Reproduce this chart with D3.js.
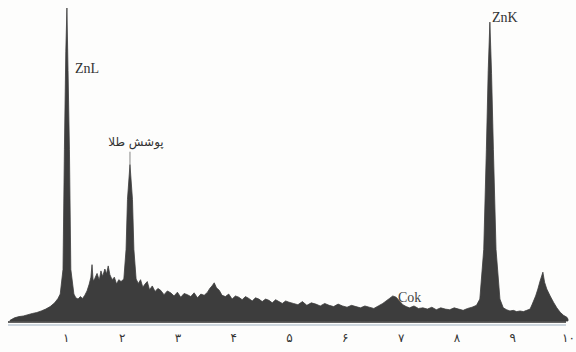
<!DOCTYPE html>
<html>
<head>
<meta charset="utf-8">
<script src="https://cdn.jsdelivr.net/npm/d3@7"></script>
<style>
  html, body { margin: 0; padding: 0; background: #fdfdfc; }
  svg { display: block; }
</style>
</head>
<body>
<svg id="chart" width="576" height="352"></svg>
<script>
// EDS spectrum: energy (keV) and intensity (counts, relative)
const energyKeV = [
  0.00, 0.08, 0.16, 0.24, 0.32, 0.40, 0.48, 0.56, 0.64, 0.72, 0.80, 0.86,
  0.90, 0.95, 0.975, 1.00, 1.02, 1.04, 1.065, 1.09, 1.145,
  1.18, 1.22, 1.26, 1.30, 1.34, 1.38, 1.42, 1.45, 1.47, 1.49, 1.52, 1.56,
  1.60, 1.63, 1.66, 1.70, 1.73, 1.76, 1.79, 1.83, 1.87, 1.91, 1.95, 1.99,
  2.04, 2.08, 2.105, 2.15, 2.195, 2.22, 2.26,
  2.30, 2.34, 2.38, 2.42, 2.46, 2.50, 2.55, 2.60, 2.65, 2.70, 2.76, 2.82,
  2.88, 2.94, 3.00, 3.06, 3.12, 3.18, 3.24, 3.30, 3.36, 3.42, 3.48,
  3.54, 3.58, 3.62, 3.66, 3.70, 3.75, 3.80, 3.86, 3.92, 3.98, 4.04, 4.10, 4.16,
  4.22, 4.28, 4.34, 4.40, 4.46, 4.52, 4.58, 4.64, 4.70, 4.76, 4.82, 4.88, 4.94,
  5.00, 5.08, 5.16, 5.24, 5.32, 5.40, 5.48, 5.56, 5.64, 5.72, 5.80,
  5.88, 5.96, 6.04, 6.12, 6.20, 6.28, 6.36, 6.44, 6.52, 6.60,
  6.68, 6.74, 6.80, 6.86, 6.92, 6.98, 7.04, 7.10,
  7.16, 7.24, 7.32, 7.40, 7.48, 7.56, 7.64, 7.72, 7.80, 7.88, 7.96, 8.04,
  8.12, 8.20, 8.28, 8.36,
  8.42, 8.49, 8.537, 8.57, 8.60, 8.63, 8.663, 8.71, 8.78,
  8.84, 8.90, 8.96, 9.02, 9.08, 9.14, 9.20, 9.26, 9.32, 9.36, 9.42, 9.46,
  9.50, 9.55, 9.58, 9.62, 9.68, 9.74, 9.80, 9.86, 9.92, 9.98, 10.00
];
const counts = [
  2, 10, 14, 16, 20, 24, 27, 32, 38, 46, 58, 72,
  86, 165, 547, 860, 1000, 800, 547, 165, 86,
  74, 70, 78, 72, 82, 96, 118, 140, 180, 128, 136, 152,
  130, 160, 142, 166, 150, 176, 148, 132, 140, 118, 132, 126,
  134, 229, 388, 500, 388, 229, 134,
  120, 132, 108, 118, 126, 100, 112, 94, 104, 98, 84, 96,
  90, 80, 92, 76, 88, 84, 78, 90, 74, 86, 82,
  92, 104, 112, 122, 106, 98, 82, 78, 86, 70, 80, 76, 68,
  78, 72, 64, 74, 70, 62, 70, 66, 58, 68, 62, 56, 64,
  60, 56, 52, 62, 50, 58, 54, 48, 56, 50, 46,
  54, 48, 44, 50, 46, 42, 48, 44, 40, 48,
  56, 64, 72, 80, 76, 64, 52, 46,
  42, 48, 40, 42, 38, 44, 36, 42, 38, 36, 42, 38,
  34, 40, 44, 50,
  70, 229, 547, 800, 955, 790, 547, 229, 70,
  42, 36, 32, 34, 30, 32, 30, 34, 38, 54, 80, 102,
  128, 156, 124, 102, 80, 60, 42, 28, 18, 12, 6
];

// x-axis ticks (keV) with Persian numerals
const tickValues = [1, 2, 3, 4, 5, 6, 7, 8, 9, 10];
const tickLabels = ["۱", "۲", "۳", "۴", "۵", "۶", "۷", "۸", "۹", "۱۰"];

// peak annotations: text, peak energy, label level (counts)
const peakNames   = ["ZnL", "پوشش طلا", "Cok", "ZnK"];
const peakEnergy  = [1.02, 2.15, 6.90, 8.60];
const labelLevel  = [792, 560, 60, 955];

const svg = d3.select("#chart");

const x = d3.scaleLinear().domain([0, 10]).range([10, 568]);
const y = d3.scaleLinear().domain([0, 1000]).range([321, 8]);

const data = energyKeV.map((e, i) => ({ e, c: counts[i] }));

// spectrum fill
const area = d3.area()
  .x(d => x(d.e))
  .y0(y(0))
  .y1(d => y(d.c))
  .curve(d3.curveLinear);

svg.append("path")
  .datum(data)
  .attr("d", area)
  .attr("fill", "#3d3d3d")
  .attr("stroke", "#3d3d3d")
  .attr("stroke-width", 0.8)
  .attr("stroke-linejoin", "miter");

// bottom axis with Persian numerals
const axis = d3.axisBottom(x)
  .tickValues(tickValues)
  .tickFormat((d, i) => tickLabels[i])
  .tickSize(0)
  .tickPadding(11);

const gAxis = svg.append("g")
  .attr("transform", `translate(0,${y(0) + 1})`)
  .call(axis);

gAxis.select(".domain")
  .attr("stroke", "#2e2e2e")
  .attr("stroke-width", 1.6)
  .attr("d", `M${x(0) - 2},0H${x(10) - 2}`);

gAxis.selectAll(".tick text")
  .attr("font-family", "'DejaVu Sans', sans-serif")
  .attr("font-size", 12)
  .attr("fill", "#333");

// second thin rule under the axis
svg.append("line")
  .attr("x1", x(0) - 2).attr("x2", x(10) - 2)
  .attr("y1", y(0) + 4).attr("y2", y(0) + 4)
  .attr("stroke", "#9fb2c2")
  .attr("stroke-width", 1);

// annotations
const ann = svg.append("g");

// ZnL
ann.append("text")
  .attr("x", x(peakEnergy[0]) + 8)
  .attr("y", y(labelLevel[0]))
  .attr("font-family", "'Liberation Serif', serif")
  .attr("font-size", 14)
  .attr("fill", "#333")
  .text(peakNames[0]);

// gold coating label with leader line
ann.append("text")
  .attr("x", x(peakEnergy[1]) + 6)
  .attr("y", y(labelLevel[1]))
  .attr("text-anchor", "middle")
  .attr("font-family", "'DejaVu Sans', sans-serif")
  .attr("font-size", 12)
  .attr("fill", "#333")
  .text(peakNames[1]);
ann.append("line")
  .attr("x1", x(peakEnergy[1])).attr("x2", x(peakEnergy[1]))
  .attr("y1", y(labelLevel[1]) + 6).attr("y2", y(counts[energyKeV.indexOf(peakEnergy[1])]))
  .attr("stroke", "#666").attr("stroke-width", 0.8);

// Cok
ann.append("text")
  .attr("x", x(peakEnergy[2]) + 3)
  .attr("y", y(labelLevel[2]))
  .attr("font-family", "'Liberation Serif', serif")
  .attr("font-size", 14)
  .attr("fill", "#444")
  .text(peakNames[2]);

// ZnK
ann.append("text")
  .attr("x", x(peakEnergy[3]) + 2)
  .attr("y", y(labelLevel[3]))
  .attr("font-family", "'Liberation Serif', serif")
  .attr("font-size", 14)
  .attr("fill", "#333")
  .text(peakNames[3]);
</script>
</body>
</html>
